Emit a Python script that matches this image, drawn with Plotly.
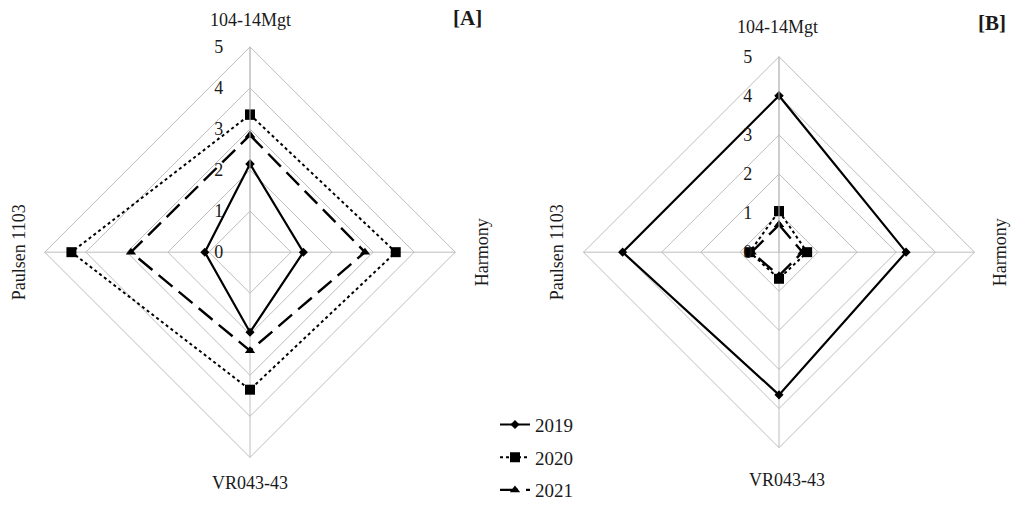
import plotly.graph_objects as go

categories = ["104-14Mgt", "Harmony", "VR043-43", "Paulsen 1103"]
years = ["2019", "2020", "2021"]

# Panel A values (order follows categories)
a_2019 = [2.15, 1.3, 1.95, 1.1]
a_2020 = [3.35, 3.55, 3.35, 4.35]
a_2021 = [2.85, 2.8, 2.4, 2.9]

# Panel B values
b_2019 = [4.0, 3.25, 3.65, 4.0]
b_2020 = [1.05, 0.72, 0.68, 0.75]
b_2021 = [0.7, 0.6, 0.6, 0.7]

radial_ticks = [0, 1, 2, 3, 4, 5]

styles = {
    "2019": dict(dash="solid", width=2.2, symbol="diamond", size=7),
    "2020": dict(dash="dot", width=2, symbol="square", size=10),
    "2021": dict(dash="18px,8px", width=2.4, symbol="triangle-up", size=9),
}

W, H = 1011, 510
HE = 487  # effective drawing height observed in the rendering environment
SERIF = "Liberation Serif, Times New Roman, serif"

def closed(v):
    return list(v) + [v[0]]

def py(y):
    return 1 - y / HE

fig = go.Figure()

panel_data = {
    "polar": [a_2019, a_2020, a_2021],
    "polar2": [b_2019, b_2020, b_2021],
}

for sub, series in panel_data.items():
    for yr, vals in zip(years, series):
        st = styles[yr]
        fig.add_trace(go.Scatterpolar(
            r=closed(vals), theta=closed(categories), subplot=sub,
            mode="lines+markers", name=yr, legendgroup=yr,
            showlegend=(sub == "polar"),
            line=dict(color="black", width=st["width"], dash=st["dash"]),
            marker=dict(color="black", symbol=st["symbol"], size=st["size"]),
        ))

grid = "#bdbdbd"

def polar_layout(cx, cy, rad):
    return dict(
        domain=dict(x=[(cx - rad) / W, (cx + rad) / W],
                    y=[py(cy + rad), py(cy - rad)]),
        gridshape="linear",
        bgcolor="white",
        radialaxis=dict(range=[0, 5], tickvals=radial_ticks, angle=90, tickangle=90,
                        showline=True, linecolor=grid, gridcolor=grid, gridwidth=1,
                        ticks="outside", ticklen=20, tickcolor="rgba(0,0,0,0)",
                        side="counterclockwise",
                        tickfont=dict(family=SERIF, size=18, color="#1a1a1a")),
        angularaxis=dict(categoryarray=categories, categoryorder="array",
                         rotation=90, direction="clockwise",
                         showticklabels=False, ticks="",
                         showline=True, linecolor=grid, gridcolor=grid, gridwidth=1),
    )

fig.update_layout(
    width=W, height=H, autosize=False,
    margin=dict(l=0, r=0, t=0, b=0),
    paper_bgcolor="white", plot_bgcolor="white",
    polar=polar_layout(250, 258, 210),
    polar2=polar_layout(779, 258, 200),
    font=dict(family=SERIF, size=17, color="#1a1a1a"),
    legend=dict(x=495 / W, y=py(415), xanchor="left", yanchor="top",
                font=dict(family=SERIF, size=19, color="#1a1a1a"),
                tracegroupgap=5, bgcolor="rgba(0,0,0,0)"),
)

def ann(x, y, text, angle=0, size=18, bold=False):
    fig.add_annotation(x=x / W, y=py(y), xref="paper", yref="paper",
                       xanchor="center", yanchor="middle",
                       text=f"<b>{text}</b>" if bold else text, showarrow=False,
                       textangle=angle,
                       font=dict(family=SERIF, size=size, color="#1a1a1a"))

# Panel A labels
ann(250, 20, "104-14Mgt")
ann(482, 258, "Harmony", -90)
ann(250, 494, "VR043-43")
ann(19, 258, "Paulsen 1103", -90)
ann(467, 18, "[A]", size=21, bold=True)

# Panel B labels
ann(777, 28, "104-14Mgt")
ann(1000, 258, "Harmony", -90)
ann(787, 491, "VR043-43")
ann(557, 258, "Paulsen 1103", -90)
ann(992, 24, "[B]", size=21, bold=True)

page_js = (
    "var s=document.createElement('style');"
    "s.textContent='html,body{margin:0;padding:0;width:1011px;height:510px;overflow:hidden;}';"
    "document.head.appendChild(s);"
)

fig.write_html("out.html",
               config={"displayModeBar": False, "responsive": False},
               post_script=page_js)
